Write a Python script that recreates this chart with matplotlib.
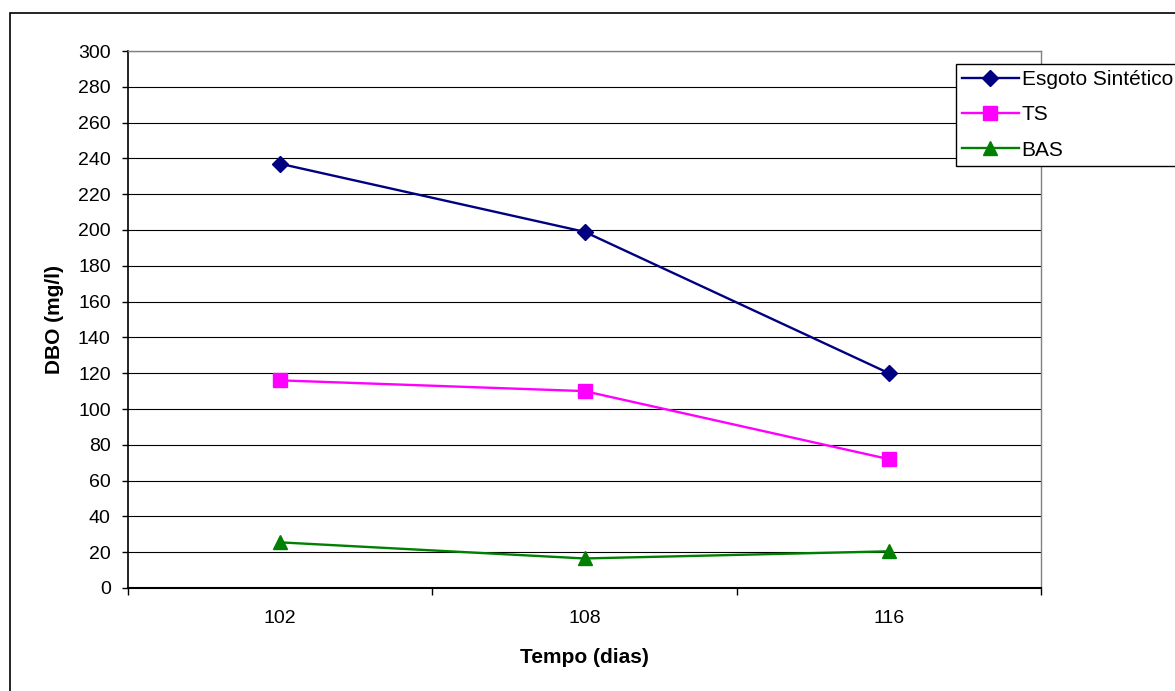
import matplotlib.pyplot as plt
from matplotlib.patches import Rectangle

plt.rcParams['font.family'] = ['Liberation Sans', 'DejaVu Sans']

# data
tempos = ['102', '108', '116']
esgoto = [237, 199, 120]
ts = [116, 110, 72]
bas = [25.5, 16.5, 20.5]

fig = plt.figure(figsize=(11.75, 6.91), dpi=100)
ax = fig.add_axes([128/1175, 1 - 588/691, (1041-128)/1175, (588-51)/691])

x = [0.5 + i for i in range(len(tempos))]
ax.plot(x, esgoto, '-D', color='#000080', lw=1.7, ms=8.5, label='Esgoto Sintético')
ax.plot(x, ts, '-s', color='#FF00FF', lw=1.7, ms=10, label='TS')
ax.plot(x, bas, '-^', color='#008000', lw=1.7, ms=10.5, label='BAS')

ax.set_xlim(0, len(tempos))
ax.set_ylim(0, 300)
ax.set_yticks(range(0, 301, 20))
ax.set_xticks(x)
ax.set_xticklabels(tempos)
ax.set_xticks(range(0, len(tempos) + 1), minor=True)
ax.tick_params(axis='x', which='major', length=0, pad=16, labelsize=14)
ax.tick_params(axis='x', which='minor', length=5, direction='out', width=1)
ax.tick_params(axis='y', length=4.5, direction='out', width=1, labelsize=14, pad=8)
ax.grid(axis='y', color='black', lw=0.8)
ax.set_axisbelow(True)

for s in ['top', 'right']:
    ax.spines[s].set_color('#808080')
    ax.spines[s].set_linewidth(1)
ax.spines['left'].set_linewidth(1.2)
ax.spines['bottom'].set_linewidth(1.5)

ax.set_xlabel('Tempo (dias)', fontsize=15, fontweight='bold', labelpad=15)
ax.set_ylabel('DBO (mg/l)', fontsize=15, fontweight='bold', labelpad=10)

leg = ax.legend(loc='upper left', bbox_to_anchor=(956/1175, 1 - 64/691),
                bbox_transform=fig.transFigure, fontsize=15, frameon=True,
                fancybox=False, edgecolor='black', framealpha=1,
                borderaxespad=0, handlelength=2.7, labelspacing=0.78,
                borderpad=0.3, handletextpad=0.15)
leg.get_frame().set_linewidth(1)

# outer chart border (extends past the image edge)
fig.patches.append(Rectangle((10/1175, -0.1), 1.2, 1 - 13/691 + 0.1,
                             transform=fig.transFigure, fill=False,
                             edgecolor='black', lw=1.2))

fig.savefig('out.png', dpi=100)
